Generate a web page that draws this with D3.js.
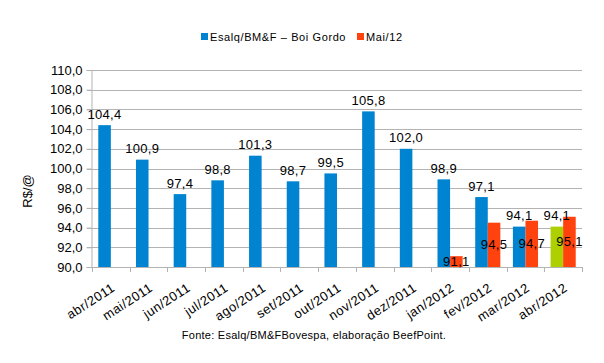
<!DOCTYPE html>
<html>
<head>
<meta charset="UTF-8">
<script src="https://cdnjs.cloudflare.com/ajax/libs/d3/7.8.5/d3.min.js"></script>
<style>
  body { margin: 0; background: #fff; }
  svg text { font-family: "Liberation Sans", Arial, sans-serif; fill: #000; }
</style>
</head>
<body>
<div id="chart"></div>
<script>
var categories = ['abr/2011', 'mai/2011', 'jun/2011', 'jul/2011', 'ago/2011', 'set/2011', 'out/2011',
  'nov/2011', 'dez/2011', 'jan/2012', 'fev/2012', 'mar/2012', 'abr/2012'];
var esalq = [104.4, 100.9, 97.4, 98.8, 101.3, 98.7, 99.5, 105.8, 102.0, 98.9, 97.1, 94.1, 94.1];
var mai12 = [null, null, null, null, null, null, null, null, null, 91.1, 94.5, 94.7, 95.1];
var yTicks = [90, 92, 94, 96, 98, 100, 102, 104, 106, 108, 110];
var seriesNames = ['Esalq/BM&F – Boi Gordo', 'Mai/12'];
var highlightCat = 'abr/2012';

var width = 604, height = 363;
var plotLeft = 92, plotRight = 582, plotTop = 70, plotBottom = 267;
var blue = '#0084d1', red = '#ff420e', green = '#aecf00', grey = '#b3b3b3';

var fmt = function(v) { return d3.format('.1f')(v).replace('.', ','); };

var svg = d3.select('#chart').append('svg')
  .attr('width', width)
  .attr('height', height);

var x = d3.scaleBand()
  .domain(categories)
  .range([plotLeft, plotRight])
  .paddingInner(1 / 3)
  .paddingOuter(1 / 6);
var step = x.step();
var x1 = d3.scaleBand()
  .domain([0, 1])
  .range([0, x.bandwidth()]);
var y = d3.scaleLinear()
  .domain([90, 110])
  .range([plotBottom, plotTop]);

// grid
svg.append('g').selectAll('line')
  .data(yTicks)
  .enter().append('line')
  .attr('x1', plotLeft - 5)
  .attr('x2', plotRight)
  .attr('y1', function(d) { return Math.round(y(d)) + 0.5; })
  .attr('y2', function(d) { return Math.round(y(d)) + 0.5; })
  .attr('stroke', grey);

// y axis
var yAxis = svg.append('g').attr('transform', 'translate(' + (plotLeft - 0.5) + ',0)')
  .call(d3.axisLeft(y).tickValues(yTicks).tickSize(5).tickPadding(4).tickFormat(fmt));
yAxis.select('.domain').attr('stroke', grey);
yAxis.selectAll('.tick line').attr('stroke', grey);
yAxis.selectAll('text').style('font-size', '13px')
  .style('font-family', '"Liberation Sans", Arial, sans-serif');

// x axis line and ticks at band edges
svg.append('line')
  .attr('x1', plotLeft).attr('x2', plotRight)
  .attr('y1', plotBottom + 0.5).attr('y2', plotBottom + 0.5)
  .attr('stroke', grey);
svg.append('g').selectAll('line')
  .data(d3.range(categories.length + 1))
  .enter().append('line')
  .attr('x1', function(i) { return Math.round(plotLeft + i * step) + 0.5; })
  .attr('x2', function(i) { return Math.round(plotLeft + i * step) + 0.5; })
  .attr('y1', plotBottom)
  .attr('y2', plotBottom + 5)
  .attr('stroke', grey);

svg.append('g').selectAll('text')
  .data(categories)
  .enter().append('text')
  .attr('transform', function(d) {
    return 'translate(' + (x(d) + x.bandwidth() / 2 + 5) + ',' + (plotBottom + 23) + ') rotate(-33)';
  })
  .attr('text-anchor', 'end')
  .style('font-size', '13px')
  .style('letter-spacing', '0.5px')
  .text(function(d) { return d; });

// bars
var bars = svg.append('g');
bars.selectAll('rect.s0')
  .data(esalq)
  .enter().append('rect')
  .attr('class', 's0')
  .attr('x', function(d, i) { return x(categories[i]) + x1(0); })
  .attr('width', x1.bandwidth())
  .attr('y', function(d) { return y(d); })
  .attr('height', function(d) { return plotBottom - y(d); })
  .attr('fill', function(d, i) { return categories[i] === highlightCat ? green : blue; });

var maiData = mai12.map(function(v, i) { return { v: v, c: categories[i] }; })
  .filter(function(d) { return d.v !== null; });
bars.selectAll('rect.s1')
  .data(maiData)
  .enter().append('rect')
  .attr('class', 's1')
  .attr('x', function(d) { return x(d.c) + x1(1); })
  .attr('width', x1.bandwidth())
  .attr('y', function(d) { return y(d.v); })
  .attr('height', function(d) { return plotBottom - y(d.v); })
  .attr('fill', red);

// labels
svg.append('g').selectAll('text')
  .data(esalq)
  .enter().append('text')
  .attr('x', function(d, i) { return x(categories[i]) + x1(0) + x1.bandwidth() / 2; })
  .attr('y', function(d) { return y(d) - 6.5; })
  .attr('text-anchor', 'middle')
  .style('font-size', '13px')
  .style('letter-spacing', '0.3px')
  .text(fmt);
svg.append('g').selectAll('text')
  .data(maiData)
  .enter().append('text')
  .attr('x', function(d) { return x(d.c) + x1(1) + x1.bandwidth() / 2; })
  .attr('y', function(d) { return (y(d.v) + plotBottom) / 2 + 4.5; })
  .attr('text-anchor', 'middle')
  .style('font-size', '13px')
  .style('letter-spacing', '0.3px')
  .text(function(d) { return fmt(d.v); });

// y title
svg.append('text')
  .attr('transform', 'translate(32,191) rotate(-90)')
  .attr('text-anchor', 'middle')
  .style('font-size', '13px')
  .text('R$/@');

// legend
var legend = svg.append('g');
var legX = [201, 357];
[blue, red].forEach(function(c, i) {
  legend.append('rect')
    .attr('x', legX[i]).attr('y', 33)
    .attr('width', 7).attr('height', 7)
    .attr('fill', c);
  legend.append('text')
    .attr('x', legX[i] + 9).attr('y', 41)
    .style('font-size', '11px')
    .style('letter-spacing', '0.6px')
    .text(seriesNames[i]);
});

// source
svg.append('text')
  .attr('x', 314).attr('y', 339)
  .attr('text-anchor', 'middle')
  .style('font-size', '11px')
  .style('letter-spacing', '0.25px')
  .text('Fonte: Esalq/BM&FBovespa, elaboração BeefPoint.');
</script>
</body>
</html>
